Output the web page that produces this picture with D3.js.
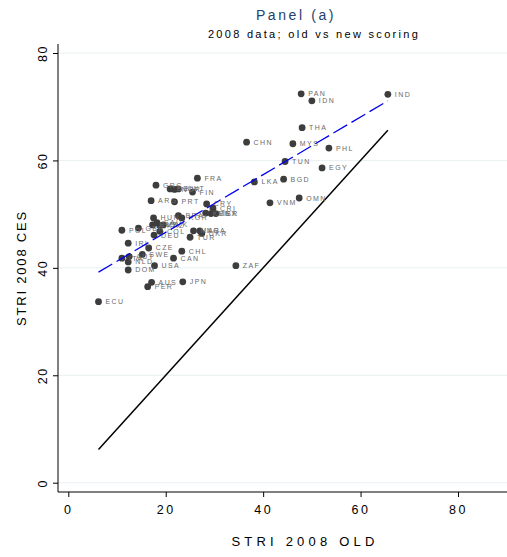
<!DOCTYPE html>
<html>
<head>
<meta charset="utf-8">
<script src="https://cdn.jsdelivr.net/npm/d3@7"></script>
<style>
  body { margin: 0; background: #fff; }
  svg { display: block; font-family: "Liberation Sans", Arial, sans-serif; }
</style>
</head>
<body>
<div id="chart"></div>
<script>
// Country codes, old score (x) and new CES score (y)
const countries = ["IND","PAN","IDN","THA","CHN","MYS","PHL","TUN","EGY","LKA","BGD","VNM","OMN",
  "FRA","GRC","BEL","NOR","KWT","FIN","ARG","PRT","CRY","CRI","KEN","MEX","ISR",
  "HUN","BRA","KOR","RUS","SAU","KAZ","SVK","POL","GBR","COL","DEU","MAR","NGA","UKR","TUR",
  "IRL","CZE","CHL","SWE","ITA","AUT","CAN","NLD","USA","ZAF","DOM","AUS","PER","JPN","ECU"];
const oldScore = [65.6,47.8,50.0,48.0,36.6,46.1,53.5,44.5,52.1,38.2,44.2,41.4,47.4,
  26.5,18.0,20.9,21.8,22.6,25.5,17.0,21.8,28.4,29.7,28.2,29.3,30.3,
  17.5,22.6,23.3,17.3,18.2,18.8,19.5,11.0,14.4,18.8,17.6,25.7,27.0,27.4,25.0,
  12.3,16.5,23.3,15.2,11.0,12.5,21.6,12.3,17.7,34.4,12.3,17.1,16.3,23.5,6.2];
const cesScore = [72.3,72.4,71.1,66.1,63.4,63.1,62.3,59.8,58.6,56.0,56.5,52.1,53.0,
  56.7,55.4,54.7,54.6,54.7,54.1,52.5,52.3,51.9,51.1,50.2,50.1,50.1,
  49.3,49.7,49.3,48.0,48.4,47.9,48.0,47.0,47.4,46.8,46.1,46.9,46.9,46.4,45.7,
  44.6,43.7,43.1,42.5,41.8,42.1,41.8,41.1,40.4,40.4,39.6,37.3,36.5,37.4,33.7];

// fitted line (blue dashed) and 45 degree line endpoints
const fitX = [6.2, 65.6];
const fitY = [39.2, 71.1];
const diagX = [6.2, 65.6];

const ticks = [0, 20, 40, 60, 80];

const W = 507, H = 557;
const svg = d3.select("#chart").append("svg")
  .attr("width", W).attr("height", H);

const x = d3.scaleLinear().domain([0, 80]).range([68.3, 458]);
const y = d3.scaleLinear().domain([0, 80]).range([482.7, 53]);

const plotL = 58, plotB = 492, plotT = 44, plotR = 507;

// gridlines
svg.append("g").selectAll("line")
  .data(ticks)
  .join("line")
  .attr("x1", plotL).attr("x2", plotR)
  .attr("y1", d => y(d)).attr("y2", d => y(d))
  .attr("stroke", "#e8f0f2").attr("stroke-width", 1);

// y axis
const yAxis = svg.append("g")
  .attr("transform", `translate(${plotL},0)`)
  .call(d3.axisLeft(y).tickValues(ticks).tickSize(5).tickSizeOuter(0));
yAxis.select(".domain").remove();
yAxis.selectAll("line").attr("stroke", "#000");
yAxis.selectAll("text")
  .attr("transform", "translate(-11,0) rotate(-90)")
  .attr("x", 0).attr("y", 0).attr("dy", 0)
  .attr("text-anchor", "middle")
  .style("font-size", "12.5px")
  .style("letter-spacing", "1.5px")
  .attr("fill", "#000");
svg.append("line")
  .attr("x1", plotL).attr("x2", plotL).attr("y1", plotT).attr("y2", plotB)
  .attr("stroke", "#000");

// x axis
const xAxis = svg.append("g")
  .attr("transform", `translate(0,${plotB})`)
  .call(d3.axisBottom(x).tickValues(ticks).tickSize(5).tickSizeOuter(0));
xAxis.select(".domain").remove();
xAxis.selectAll("line").attr("stroke", "#000");
xAxis.selectAll("text")
  .attr("y", 13)
  .style("font-size", "12.5px")
  .style("letter-spacing", "2.5px")
  .attr("fill", "#000");
svg.append("line")
  .attr("x1", plotL).attr("x2", plotR).attr("y1", plotB).attr("y2", plotB)
  .attr("stroke", "#000");

// axis titles
svg.append("text")
  .attr("x", 305).attr("y", 546)
  .attr("text-anchor", "middle")
  .style("font-size", "13px")
  .style("letter-spacing", "4.2px")
  .text("STRI 2008 OLD");

svg.append("text")
  .attr("transform", "translate(26,268) rotate(-90)")
  .attr("text-anchor", "middle")
  .style("font-size", "13px")
  .style("letter-spacing", "1.8px")
  .text("STRI 2008 CES");

// titles
svg.append("text")
  .attr("x", 296).attr("y", 20)
  .attr("text-anchor", "middle")
  .attr("fill", "#24406e")
  .style("font-size", "14px")
  .style("letter-spacing", "2.6px")
  .text("Panel (a)");

svg.append("text")
  .attr("x", 314).attr("y", 38)
  .attr("text-anchor", "middle")
  .style("font-size", "11px")
  .style("letter-spacing", "2.3px")
  .text("2008 data; old vs new scoring");

// 45 degree line
svg.append("line")
  .attr("x1", x(diagX[0])).attr("y1", y(diagX[0]))
  .attr("x2", x(diagX[1])).attr("y2", y(diagX[1]))
  .attr("stroke", "#000").attr("stroke-width", 1.5);

// points
const pts = countries.map((c, i) => ({ c, x: oldScore[i], y: cesScore[i] }));

svg.append("g").selectAll("circle")
  .data(pts)
  .join("circle")
  .attr("cx", d => x(d.x))
  .attr("cy", d => y(d.y))
  .attr("r", 3.4)
  .attr("fill", "#3d3d3d");

svg.append("g").selectAll("text")
  .data(pts)
  .join("text")
  .attr("x", d => x(d.x) + 7)
  .attr("y", d => y(d.y) + 2.5)
  .attr("fill", "#6a6a6a")
  .style("font-size", "7px")
  .style("letter-spacing", "1.4px")
  .text(d => d.c);

// fitted line
svg.append("line")
  .attr("x1", x(fitX[0])).attr("y1", y(fitY[0]))
  .attr("x2", x(fitX[1])).attr("y2", y(fitY[1]))
  .attr("stroke", "#0000ee").attr("stroke-width", 1.3)
  .attr("stroke-dasharray", "16,5");
</script>
</body>
</html>
